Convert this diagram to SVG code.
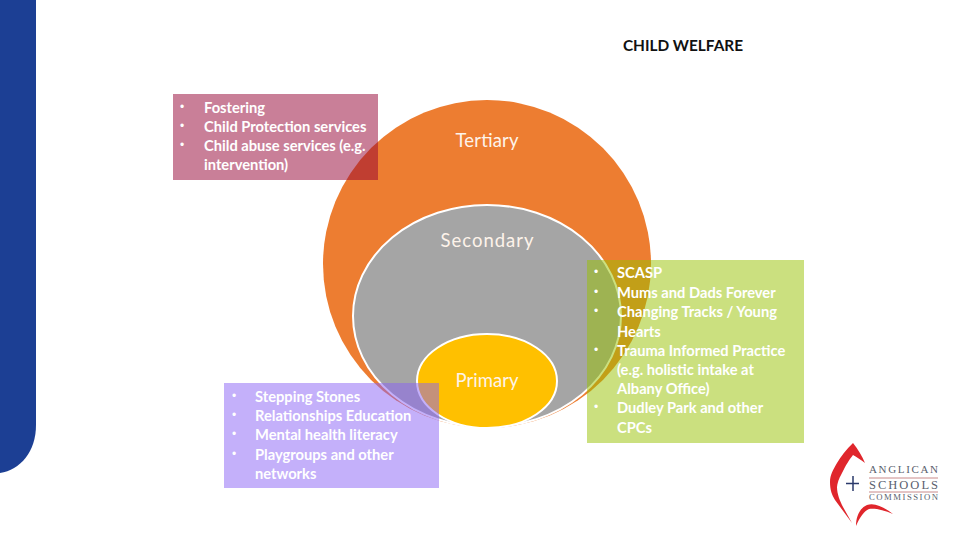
<svg xmlns="http://www.w3.org/2000/svg" width="960" height="540" viewBox="0 0 960 540">
<style>
text{font-family:Lato,"Open Sans","Liberation Sans",sans-serif}
.t{font-size:14.700px;font-weight:700;fill:#fff}
.b{font-size:12px;fill:#fff;font-family:"Liberation Sans",sans-serif}
.big{font-size:18.500px;fill:#fdf3ea;text-anchor:middle}
.ring{stroke:#fff;stroke-width:2}
.logo{fill:#5a5f6e;font-family:"Liberation Serif",serif;text-anchor:middle}
</style>
<rect width="960" height="540" fill="#fff"/>
<path id="sidebar" d="M0 0H36V425C36 452 20 470 0 473Z" fill="#1c3f94"/>
<text id="title" x="683" y="51" text-anchor="middle" font-size="15.400" font-weight="700" fill="#111">CHILD WELFARE</text>
<g id="tertiary"><circle cx="487" cy="264" r="164" fill="#ed7d31"/><text class="big" x="487" y="147" textLength="63">Tertiary</text></g>
<g id="secondary"><ellipse class="ring" cx="487" cy="316" rx="134" ry="111" fill="#a5a5a5"/><text class="big" x="487" y="247" textLength="93">Secondary</text></g>
<g id="primary"><ellipse class="ring" cx="487" cy="381" rx="70" ry="47" fill="#ffc000"/><text class="big" x="487" y="387" textLength="63">Primary</text></g>
<g id="child-welfare-box"><rect x="173" y="94" width="205" height="86" fill="#930031" fill-opacity=".5"/>
<text class="b" x="180" y="111">•</text><text class="t" x="204" y="113">Fostering</text><text class="b" x="180" y="130">•</text><text class="t" x="204" y="132">Child Protection services</text><text class="b" x="180" y="149">•</text><text class="t" x="204" y="151">Child abuse services (e.g.</text><text class="t" x="204" y="170">intervention)</text></g>
<g id="primary-box"><rect x="224" y="383" width="215" height="105" fill="#8962f6" fill-opacity=".5"/>
<text class="b" x="232" y="400">•</text><text class="t" x="255" y="402">Stepping Stones</text><text class="b" x="232" y="419">•</text><text class="t" x="255" y="421">Relationships Education</text><text class="b" x="232" y="438">•</text><text class="t" x="255" y="440">Mental health literacy</text><text class="b" x="232" y="458">•</text><text class="t" x="255" y="460">Playgroups and other</text><text class="t" x="255" y="479">networks</text></g>
<g id="secondary-box"><rect x="587" y="260" width="217" height="183" fill="#98c200" fill-opacity=".5"/>
<text class="b" x="594" y="276">•</text><text class="t" x="617" y="278">SCASP</text><text class="b" x="594" y="296">•</text><text class="t" x="617" y="298">Mums and Dads Forever</text><text class="b" x="594" y="315">•</text><text class="t" x="617" y="317">Changing Tracks / Young</text><text class="t" x="617" y="337">Hearts</text><text class="b" x="594" y="354">•</text><text class="t" x="617" y="356">Trauma Informed Practice</text><text class="t" x="617" y="375">(e.g. holistic intake at</text><text class="t" x="617" y="394">Albany Office)</text><text class="b" x="594" y="411">•</text><text class="t" x="617" y="413">Dudley Park and other</text><text class="t" x="617" y="433">CPCs</text></g>
<g id="logo">
<path d="M853 443C846 450 841 456 837 463C833 470 830 475 830 482C830 490 832 495 835 500L852 523L843 507C840 501 837 494 837 487C838 480 840 477 842 473C846 465 849 460 853 455C857 457 861 460 865 463C862 456 858 449 853 443Z" fill="#e0262c"/>
<path d="M856 526C856 516 860 508 867 505C875 502 885 508 893 514C884 510 875 508 869 509C864 511 860 517 856 526Z" fill="#e0262c"/>
<path d="M853 476V491M846 483.500H859" stroke="#2b3a6b" stroke-width="1.500" fill="none"/>
<text class="logo" x="903.500" y="473" font-size="11" textLength="69" lengthAdjust="spacing">ANGLICAN</text>
<path d="M869 478H938" stroke="#c98a8a" stroke-width="1"/>
<text class="logo" x="903.500" y="489" font-size="12.500" textLength="69" lengthAdjust="spacing">SCHOOLS</text>
<path d="M869 492H938" stroke="#c98a8a" stroke-width="1"/>
<text class="logo" x="903.500" y="500" font-size="8.700" textLength="69" lengthAdjust="spacing">COMMISSION</text>
</g>
</svg>
